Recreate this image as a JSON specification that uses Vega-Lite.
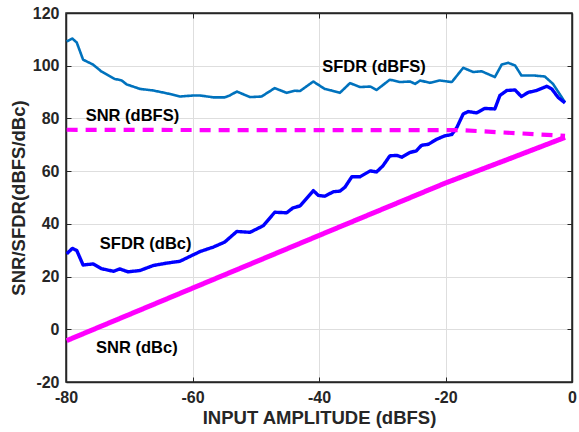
{
  "$schema": "https://vega.github.io/schema/vega-lite/v6.json",
  "width": 506,
  "height": 369,
  "autosize": {"type": "none"},
  "padding": {"left": 66, "top": 13, "right": 7, "bottom": 50},
  "background": "white",
  "config": {
    "font": "Liberation Sans",
    "view": {"stroke": "#262626", "strokeWidth": 1.5},
    "axis": {
      "labelFont": "Liberation Sans", "labelFontSize": 16, "labelFontWeight": "bold", "labelColor": "#262626",
      "titleFont": "Liberation Sans", "titleFontSize": 18.5, "titleFontWeight": "bold", "titleColor": "#262626",
      "gridColor": "#dedede", "gridWidth": 1, "domainColor": "#262626", "domainWidth": 1.5,
      "tickColor": "#262626", "tickSize": -5, "tickWidth": 1, "labelPadding": 12, "labelFlush": false, "labelOverlap": false
    }
  },
  "resolve": {"axis": {"x": "independent", "y": "independent"}},
  "datasets": {
    "lines": [
      {"s": "SFDR (dBFS)", "x": -79.9, "y": 109.2}, {"s": "SFDR (dBFS)", "x": -79.0, "y": 110.3}, {"s": "SFDR (dBFS)", "x": -78.3, "y": 108.8},
      {"s": "SFDR (dBFS)", "x": -77.3, "y": 102.3}, {"s": "SFDR (dBFS)", "x": -75.7, "y": 100.4}, {"s": "SFDR (dBFS)", "x": -74.4, "y": 97.8},
      {"s": "SFDR (dBFS)", "x": -72.3, "y": 95.0}, {"s": "SFDR (dBFS)", "x": -71.2, "y": 94.4}, {"s": "SFDR (dBFS)", "x": -70.4, "y": 92.9},
      {"s": "SFDR (dBFS)", "x": -68.3, "y": 91.2}, {"s": "SFDR (dBFS)", "x": -66.2, "y": 90.6}, {"s": "SFDR (dBFS)", "x": -63.6, "y": 89.3},
      {"s": "SFDR (dBFS)", "x": -62.0, "y": 88.3}, {"s": "SFDR (dBFS)", "x": -59.9, "y": 88.7}, {"s": "SFDR (dBFS)", "x": -58.8, "y": 88.7},
      {"s": "SFDR (dBFS)", "x": -56.7, "y": 88.0}, {"s": "SFDR (dBFS)", "x": -54.9, "y": 88.0}, {"s": "SFDR (dBFS)", "x": -54.1, "y": 88.7},
      {"s": "SFDR (dBFS)", "x": -53.0, "y": 90.2}, {"s": "SFDR (dBFS)", "x": -50.9, "y": 88.1}, {"s": "SFDR (dBFS)", "x": -49.1, "y": 88.3},
      {"s": "SFDR (dBFS)", "x": -47.0, "y": 91.5}, {"s": "SFDR (dBFS)", "x": -45.1, "y": 89.7}, {"s": "SFDR (dBFS)", "x": -43.8, "y": 90.5},
      {"s": "SFDR (dBFS)", "x": -43.0, "y": 90.4}, {"s": "SFDR (dBFS)", "x": -40.9, "y": 94.0}, {"s": "SFDR (dBFS)", "x": -39.1, "y": 91.2},
      {"s": "SFDR (dBFS)", "x": -38.0, "y": 90.6}, {"s": "SFDR (dBFS)", "x": -36.7, "y": 89.7}, {"s": "SFDR (dBFS)", "x": -35.1, "y": 93.4},
      {"s": "SFDR (dBFS)", "x": -33.5, "y": 91.9}, {"s": "SFDR (dBFS)", "x": -31.9, "y": 92.1}, {"s": "SFDR (dBFS)", "x": -30.9, "y": 90.8},
      {"s": "SFDR (dBFS)", "x": -28.8, "y": 94.7}, {"s": "SFDR (dBFS)", "x": -27.2, "y": 93.8}, {"s": "SFDR (dBFS)", "x": -25.6, "y": 94.0},
      {"s": "SFDR (dBFS)", "x": -24.8, "y": 93.1}, {"s": "SFDR (dBFS)", "x": -24.0, "y": 94.4}, {"s": "SFDR (dBFS)", "x": -22.5, "y": 93.5},
      {"s": "SFDR (dBFS)", "x": -20.9, "y": 94.4}, {"s": "SFDR (dBFS)", "x": -19.0, "y": 93.8}, {"s": "SFDR (dBFS)", "x": -17.2, "y": 99.2},
      {"s": "SFDR (dBFS)", "x": -15.6, "y": 97.6}, {"s": "SFDR (dBFS)", "x": -14.3, "y": 97.9}, {"s": "SFDR (dBFS)", "x": -12.2, "y": 95.7},
      {"s": "SFDR (dBFS)", "x": -11.1, "y": 100.5}, {"s": "SFDR (dBFS)", "x": -10.1, "y": 101.1}, {"s": "SFDR (dBFS)", "x": -9.0, "y": 100.1},
      {"s": "SFDR (dBFS)", "x": -8.0, "y": 96.3}, {"s": "SFDR (dBFS)", "x": -6.1, "y": 96.3}, {"s": "SFDR (dBFS)", "x": -4.3, "y": 95.9},
      {"s": "SFDR (dBFS)", "x": -3.0, "y": 93.1}, {"s": "SFDR (dBFS)", "x": -1.1, "y": 86.1},

      {"s": "SFDR (dBc)", "x": -79.9, "y": 28.6}, {"s": "SFDR (dBc)", "x": -79.0, "y": 30.7}, {"s": "SFDR (dBc)", "x": -78.3, "y": 29.9},
      {"s": "SFDR (dBc)", "x": -77.3, "y": 24.4}, {"s": "SFDR (dBc)", "x": -75.7, "y": 24.8}, {"s": "SFDR (dBc)", "x": -74.4, "y": 23.0},
      {"s": "SFDR (dBc)", "x": -72.5, "y": 22.0}, {"s": "SFDR (dBc)", "x": -71.5, "y": 22.9}, {"s": "SFDR (dBc)", "x": -70.2, "y": 21.8},
      {"s": "SFDR (dBc)", "x": -68.3, "y": 22.3}, {"s": "SFDR (dBc)", "x": -66.2, "y": 24.2}, {"s": "SFDR (dBc)", "x": -64.1, "y": 25.1},
      {"s": "SFDR (dBc)", "x": -62.0, "y": 25.8}, {"s": "SFDR (dBc)", "x": -58.8, "y": 29.5}, {"s": "SFDR (dBc)", "x": -56.7, "y": 31.2},
      {"s": "SFDR (dBc)", "x": -54.9, "y": 33.1}, {"s": "SFDR (dBc)", "x": -53.0, "y": 37.1}, {"s": "SFDR (dBc)", "x": -50.9, "y": 36.8},
      {"s": "SFDR (dBc)", "x": -48.8, "y": 39.3}, {"s": "SFDR (dBc)", "x": -47.0, "y": 44.4}, {"s": "SFDR (dBc)", "x": -45.1, "y": 44.2},
      {"s": "SFDR (dBc)", "x": -44.1, "y": 46.1}, {"s": "SFDR (dBc)", "x": -43.0, "y": 46.8}, {"s": "SFDR (dBc)", "x": -40.9, "y": 52.6},
      {"s": "SFDR (dBc)", "x": -40.1, "y": 50.8}, {"s": "SFDR (dBc)", "x": -39.1, "y": 50.5}, {"s": "SFDR (dBc)", "x": -37.7, "y": 52.2},
      {"s": "SFDR (dBc)", "x": -36.7, "y": 52.4}, {"s": "SFDR (dBc)", "x": -35.9, "y": 53.9}, {"s": "SFDR (dBc)", "x": -34.8, "y": 57.9},
      {"s": "SFDR (dBc)", "x": -33.5, "y": 57.9}, {"s": "SFDR (dBc)", "x": -31.9, "y": 60.1}, {"s": "SFDR (dBc)", "x": -30.9, "y": 59.7},
      {"s": "SFDR (dBc)", "x": -29.9, "y": 62.0}, {"s": "SFDR (dBc)", "x": -28.8, "y": 65.8}, {"s": "SFDR (dBc)", "x": -27.7, "y": 66.0},
      {"s": "SFDR (dBc)", "x": -26.9, "y": 65.3}, {"s": "SFDR (dBc)", "x": -25.6, "y": 67.1}, {"s": "SFDR (dBc)", "x": -24.6, "y": 67.7},
      {"s": "SFDR (dBc)", "x": -23.8, "y": 69.8}, {"s": "SFDR (dBc)", "x": -22.7, "y": 70.2}, {"s": "SFDR (dBc)", "x": -21.4, "y": 72.1},
      {"s": "SFDR (dBc)", "x": -20.1, "y": 73.4}, {"s": "SFDR (dBc)", "x": -19.0, "y": 73.9}, {"s": "SFDR (dBc)", "x": -18.2, "y": 76.6},
      {"s": "SFDR (dBc)", "x": -17.2, "y": 81.7}, {"s": "SFDR (dBc)", "x": -16.4, "y": 82.6}, {"s": "SFDR (dBc)", "x": -15.1, "y": 82.1},
      {"s": "SFDR (dBc)", "x": -13.8, "y": 83.8}, {"s": "SFDR (dBc)", "x": -12.2, "y": 83.6}, {"s": "SFDR (dBc)", "x": -11.4, "y": 88.7},
      {"s": "SFDR (dBc)", "x": -10.3, "y": 90.6}, {"s": "SFDR (dBc)", "x": -9.0, "y": 90.8}, {"s": "SFDR (dBc)", "x": -8.0, "y": 88.3},
      {"s": "SFDR (dBc)", "x": -6.9, "y": 89.9}, {"s": "SFDR (dBc)", "x": -5.6, "y": 90.6}, {"s": "SFDR (dBc)", "x": -4.0, "y": 92.2},
      {"s": "SFDR (dBc)", "x": -3.2, "y": 91.2}, {"s": "SFDR (dBc)", "x": -2.2, "y": 88.0}, {"s": "SFDR (dBc)", "x": -1.1, "y": 85.9},

      {"s": "SNR (dBFS)", "x": -79.9, "y": 75.7}, {"s": "SNR (dBFS)", "x": -60, "y": 75.6}, {"s": "SNR (dBFS)", "x": -40, "y": 75.6},
      {"s": "SNR (dBFS)", "x": -18, "y": 75.6}, {"s": "SNR (dBFS)", "x": -1.1, "y": 73.4},

      {"s": "SNR (dBc)", "x": -79.9, "y": -4.3}, {"s": "SNR (dBc)", "x": -60, "y": 15.6}, {"s": "SNR (dBc)", "x": -40, "y": 35.6},
      {"s": "SNR (dBc)", "x": -20, "y": 55.5}, {"s": "SNR (dBc)", "x": -10, "y": 64.6}, {"s": "SNR (dBc)", "x": -1.1, "y": 72.8}
    ],
    "labels": [
      {"t": "SFDR (dBFS)", "x": -31.3, "y": 99.6},
      {"t": "SNR (dBFS)", "x": -69.5, "y": 80.8},
      {"t": "SFDR (dBc)", "x": -67.4, "y": 32.2},
      {"t": "SNR (dBc)", "x": -68.8, "y": -7.2}
    ]
  },
  "layer": [
    {
      "data": {"name": "lines"},
      "mark": {"type": "line", "strokeJoin": "round", "strokeCap": "butt", "clip": true},
      "encoding": {
        "x": {"field": "x", "type": "quantitative", "scale": {"domain": [-80, 0], "nice": false},
              "axis": {"values": [-80, -60, -40, -20, 0], "labelExpr": "'' + datum.value", "title": "INPUT AMPLITUDE (dBFS)", "titlePadding": 3}},
        "y": {"field": "y", "type": "quantitative", "scale": {"domain": [-20, 120], "nice": false},
              "axis": {"values": [-20, 0, 20, 40, 60, 80, 100, 120], "labelExpr": "'' + datum.value", "title": "SNR/SFDR(dBFS/dBc)", "titlePadding": 4}},
        "color": {"field": "s", "type": "nominal", "legend": null,
                  "scale": {"domain": ["SFDR (dBFS)", "SFDR (dBc)", "SNR (dBFS)", "SNR (dBc)"], "range": ["#0072BD", "#0000FF", "#FF00FF", "#FF00FF"]}},
        "strokeWidth": {"field": "s", "type": "nominal", "legend": null,
                  "scale": {"domain": ["SFDR (dBFS)", "SFDR (dBc)", "SNR (dBFS)", "SNR (dBc)"], "range": [2.6, 5, 2.8, 5]}},
        "strokeDash": {"field": "s", "type": "nominal", "legend": null,
                  "scale": {"domain": ["SFDR (dBFS)", "SFDR (dBc)", "SNR (dBFS)", "SNR (dBc)"], "range": [[1, 0], [1, 0], [11, 8], [1, 0]]}}
      }
    },
    {
      "data": {"name": "labels"},
      "mark": {"type": "text", "fontWeight": "bold", "fontSize": 16.5, "color": "#000000", "font": "Liberation Sans"},
      "encoding": {
        "x": {"field": "x", "type": "quantitative",
              "axis": {"orient": "top", "values": [-80, -60, -40, -20, 0], "labels": false, "title": null, "grid": false}},
        "y": {"field": "y", "type": "quantitative",
              "axis": {"orient": "right", "values": [-20, 0, 20, 40, 60, 80, 100, 120], "labels": false, "title": null, "grid": false}},
        "text": {"field": "t"}
      }
    }
  ]
}
